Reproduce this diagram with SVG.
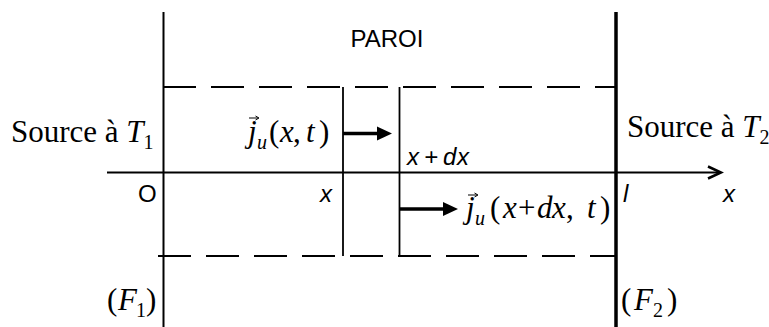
<svg xmlns="http://www.w3.org/2000/svg" width="769" height="327" viewBox="0 0 769 327">
<style>
.ln{stroke:#000;fill:none}
.dash{stroke:#000;stroke-width:2;stroke-dasharray:33 15;fill:none}
.serif{font-family:"Liberation Serif","Times New Roman",serif;font-size:31px;fill:#000}
.sans{font-family:"Liberation Sans",Arial,sans-serif;font-size:24px;fill:#000}
.it{font-style:italic}
.sub{font-size:20px}
</style>
<rect width="769" height="327" fill="#fff"/>
<g id="connectors">
<line class="ln" x1="163.5" y1="12" x2="163.5" y2="327" stroke-width="2"/>
<line class="ln" x1="616" y1="12" x2="616" y2="327" stroke-width="3.5"/>
<line class="dash" x1="163" y1="87" x2="616" y2="87"/>
<line class="dash" x1="158" y1="256" x2="616" y2="256"/>
<line class="ln" x1="343" y1="87" x2="343" y2="256" stroke-width="1.8"/>
<line class="ln" x1="399.5" y1="87" x2="399.5" y2="256" stroke-width="1.8"/>
<line class="ln" x1="107" y1="172.5" x2="720" y2="172.5" stroke-width="2"/>
<polyline class="ln" points="708,166.5 721,172.5 708,178.5" stroke-width="2.5"/>
<line class="ln" x1="343" y1="133.5" x2="380" y2="133.5" stroke-width="3.5"/>
<polygon points="377,126.5 392,133.5 377,140.5" fill="#000"/>
<line class="ln" x1="400" y1="209" x2="446" y2="209" stroke-width="3.5"/>
<polygon points="443,202 458,209 443,216" fill="#000"/>
</g>
<g id="paroi"><text class="sans" x="387" y="47" text-anchor="middle">PAROI</text></g>
<g id="source1"><text class="serif" x="11" y="142">Source à <tspan class="it">T</tspan><tspan class="sub" dy="7">1</tspan></text></g>
<g id="source2"><text class="serif" x="627" y="137">Source à <tspan class="it">T</tspan><tspan class="sub" dy="7">2</tspan></text></g>
<g id="flux1">
<path d="M249 118 H258 M255.5 116 L259 118 L255.5 120" class="ln" stroke-width="1"/>
<text class="serif" y="142"><tspan class="it" x="248">j</tspan><tspan class="sub it" x="257" dy="7">u</tspan><tspan x="269" dy="-7">(</tspan><tspan class="it" x="280">x</tspan><tspan x="293">,</tspan><tspan class="it" x="306">t</tspan><tspan x="319">)</tspan></text>
</g>
<g id="flux2">
<path d="M468 195 H477 M474.5 193 L478 195 L474.5 197" class="ln" stroke-width="1"/>
<text class="serif" y="218"><tspan class="it" x="466">j</tspan><tspan class="sub it" x="475" dy="7">u</tspan><tspan x="490" dy="-7">(</tspan><tspan class="it" x="503">x</tspan><tspan x="518">+</tspan><tspan class="it" x="537">d</tspan><tspan class="it" x="552">x</tspan><tspan x="566">,</tspan><tspan class="it" x="587">t</tspan><tspan x="600">)</tspan></text>
</g>
<g id="labels">
<text class="sans" x="138" y="202">O</text>
<text class="sans it" x="320" y="202">x</text>
<text class="sans it" y="165"><tspan x="407">x</tspan><tspan x="424">+</tspan><tspan x="443">d</tspan><tspan x="457">x</tspan></text>
<text class="sans it" x="623" y="202">l</text>
<text class="sans it" x="723" y="202">x</text>
</g>
<g id="f1"><text class="serif" y="310"><tspan x="107">(</tspan><tspan class="it" x="118">F</tspan><tspan class="sub" x="136" dy="7">1</tspan><tspan x="146" dy="-7">)</tspan></text></g>
<g id="f2"><text class="serif" y="310"><tspan x="621">(</tspan><tspan class="it" x="634">F</tspan><tspan class="sub" x="653" dy="7">2</tspan><tspan x="667" dy="-7">)</tspan></text></g>
</svg>
